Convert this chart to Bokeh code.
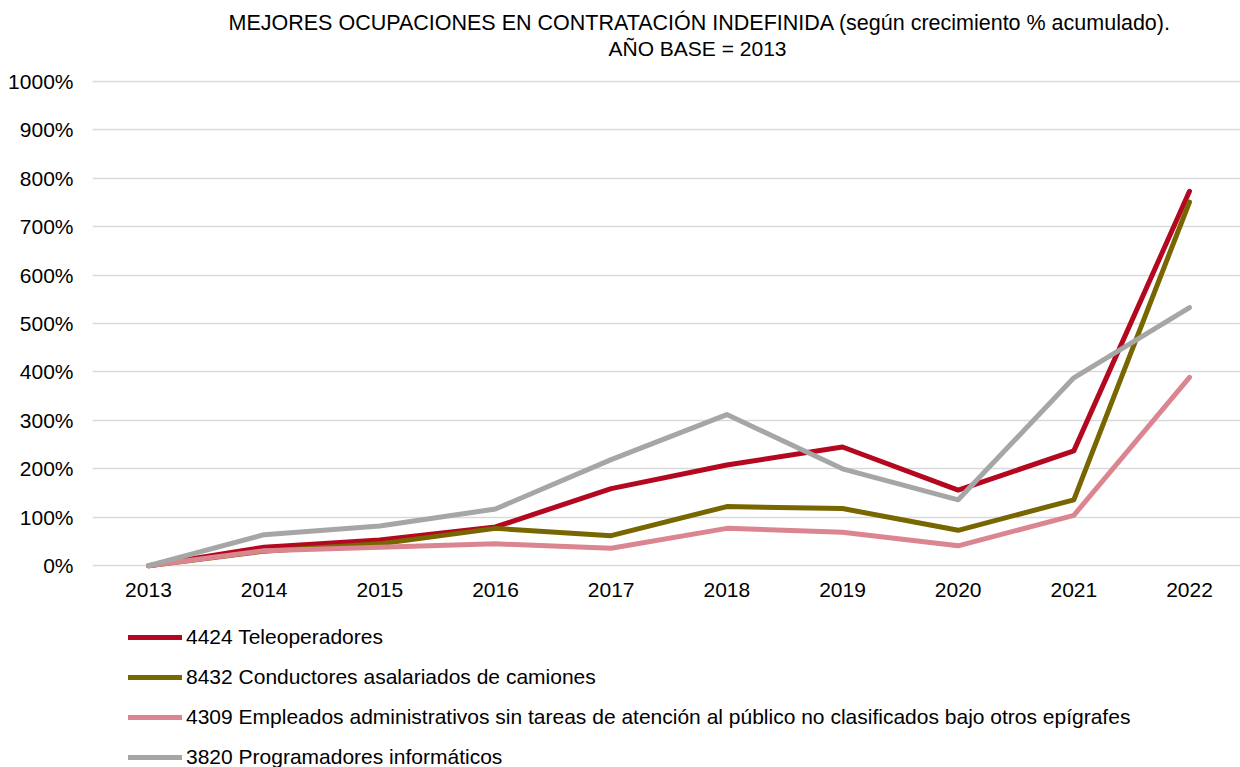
from bokeh.plotting import figure
from bokeh.layouts import column
from bokeh.models import (Range1d, FixedTicker, PrintfTickFormatter, Legend,
                          LegendItem, Title)
from bokeh.embed import file_html
from bokeh.resources import INLINE

years = [2013, 2014, 2015, 2016, 2017, 2018, 2019, 2020, 2021, 2022]

teleoperadores = [0, 38, 53, 80, 159, 208, 245, 156, 237, 773]
conductores = [0, 30, 45, 77, 62, 122, 118, 73, 136, 751]
administrativos = [0, 31, 38, 45, 36, 77, 69, 41, 104, 389]
programadores = [0, 64, 82, 117, 219, 312, 200, 136, 388, 533]

names = [
    "4424 Teleoperadores",
    "8432 Conductores asalariados de camiones",
    "4309 Empleados administrativos sin tareas de atención al público no clasificados bajo otros epígrafes",
    "3820 Programadores informáticos",
]
colors = ["#B3081F", "#786600", "#DA8590", "#A6A6A6"]
series = [teleoperadores, conductores, administrativos, programadores]

y_ticks = list(range(0, 1001, 100))

title_1 = "MEJORES OCUPACIONES EN CONTRATACIÓN INDEFINIDA (según crecimiento % acumulado)."
title_2 = "AÑO BASE = 2013"

FONT = "Liberation Sans"
FS = "21px"

# ---- main chart ----
p = figure(width=1240, height=624, output_backend="svg", toolbar_location=None,
           x_range=Range1d(2012.516, 2022.441), y_range=Range1d(-10, 1006),
           min_border_left=92, min_border_right=0, min_border_top=78,
           min_border_bottom=54)
p.outline_line_color = None
p.background_fill_color = "white"
p.border_fill_color = "white"

for name, col, vals in zip(names, colors, series):
    p.line(years, vals, line_color=col, line_width=5, line_cap="round",
           line_join="round")

p.xgrid.visible = False
p.ygrid.ticker = FixedTicker(ticks=y_ticks)
p.ygrid.grid_line_color = "#D9D9D9"
p.ygrid.grid_line_width = 1.5

p.xaxis.ticker = FixedTicker(ticks=years)
p.xaxis.axis_line_color = None
p.xaxis.major_tick_line_color = None
p.xaxis.minor_tick_line_color = None
p.xaxis.major_tick_out = 0
p.xaxis.major_tick_in = 0
p.xaxis.major_label_standoff = 12
p.xaxis.major_label_text_font = FONT
p.xaxis.major_label_text_font_size = FS
p.xaxis.major_label_text_color = "#000000"

p.yaxis.ticker = FixedTicker(ticks=y_ticks)
p.yaxis.formatter = PrintfTickFormatter(format="%d%%")
p.yaxis.axis_line_color = None
p.yaxis.major_tick_line_color = None
p.yaxis.minor_tick_line_color = None
p.yaxis.major_tick_out = 0
p.yaxis.major_tick_in = 0
p.yaxis.major_label_standoff = 19
p.yaxis.major_label_text_font = FONT
p.yaxis.major_label_text_font_size = FS
p.yaxis.major_label_text_color = "#000000"

# spacer between the title block and the plot area
p.add_layout(Title(text=" ", text_font_size="1px", standoff=16), "above")
p.add_layout(Title(text=title_2, align="left", offset=516, standoff=0,
                   text_font=FONT, text_font_size=FS, text_font_style="normal",
                   text_color="#000000"), "above")
p.add_layout(Title(text=title_1, align="left", offset=136, standoff=0,
                   text_font=FONT, text_font_size="21.5px",
                   text_font_style="normal", text_color="#000000"), "above")

# ---- legend strip ----
lg = figure(width=1240, height=143, output_backend="svg", toolbar_location=None,
            x_axis_type=None, y_axis_type=None, min_border=0,
            x_range=Range1d(0, 1), y_range=Range1d(0, 1))
lg.outline_line_color = None
lg.xgrid.visible = False
lg.ygrid.visible = False
lg.border_fill_color = "white"

items = []
for name, col, vals in zip(names, colors, series):
    # same series, outside this strip's visible range: only its legend swatch shows
    r = lg.line(years, vals, line_color=col, line_width=5, line_cap="round",
                line_join="round")
    items.append(LegendItem(label=name, renderers=[r]))

legend = Legend(items=items, location=(36, -2), orientation="vertical",
                label_text_font=FONT, label_text_font_size=FS,
                label_text_color="#000000", glyph_width=54, glyph_height=24,
                label_height=24, label_standoff=4, spacing=16, padding=0,
                margin=0, border_line_color=None, background_fill_alpha=0)
lg.add_layout(legend, "center")

layout = column(p, lg, spacing=0)
open("out.html", "w").write(file_html(layout, INLINE))
